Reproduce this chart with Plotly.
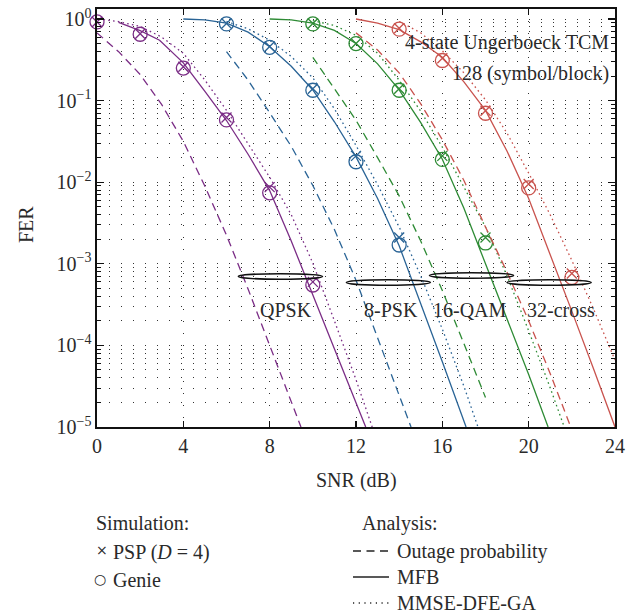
import math
import plotly.graph_objects as go

# ---------------- data ----------------
MODS = ["QPSK", "8-PSK", "16-QAM", "32-cross"]
COLORS = ["#7b2d86", "#2a6496", "#2e8b35", "#c9534e"]

# Outage probability (dashed)
SNR_OUT_QPSK = [0, 1, 2, 3, 4, 5, 6, 7, 8, 9, 9.45]
FER_OUT_QPSK = [0.676, 0.398, 0.209, 0.0891, 0.0316, 8.9e-3, 2.24e-3, 4.9e-4, 1.0e-4, 2.04e-5, 1e-5]
SNR_OUT_8PSK = [6, 7, 8, 9, 10, 11, 12, 13, 14, 14.55]
FER_OUT_8PSK = [0.398, 0.178, 0.0708, 0.0275, 9.1e-3, 2.63e-3, 6.3e-4, 1.26e-4, 2.5e-5, 1e-5]
SNR_OUT_16QAM = [10, 11, 12, 13, 14, 15, 16, 17, 18]
FER_OUT_16QAM = [0.339, 0.141, 0.0575, 0.02, 6.8e-3, 1.9e-3, 4.7e-4, 1.05e-4, 2.3e-5]
SNR_OUT_32X = [12, 13, 14, 15, 16, 17, 18, 19, 20, 21, 21.95]
FER_OUT_32X = [0.676, 0.417, 0.219, 0.0912, 0.0331, 0.0105, 2.82e-3, 7.9e-4, 2.0e-4, 4.5e-5, 1e-5]

# MFB (solid)
SNR_MFB_QPSK = [1, 2, 2.9, 4, 5, 6, 7, 8, 9, 10, 11, 12, 12.45]
FER_MFB_QPSK = [0.91, 0.72, 0.55, 0.29, 0.13, 0.057, 0.022, 7.9e-3, 1.9e-3, 4.2e-4, 9.1e-5, 2.0e-5, 1e-5]
SNR_MFB_8PSK = [4, 5, 6, 7, 8, 9, 10, 11, 12, 13, 14, 15, 16, 17.1]
FER_MFB_8PSK = [1.0, 0.977, 0.89, 0.69, 0.457, 0.263, 0.135, 0.055, 0.0204, 6.3e-3, 1.66e-3, 3.3e-4, 6.3e-5, 1e-5]
SNR_MFB_16QAM = [8, 9, 10, 11, 12, 13, 14, 15, 16, 17, 18, 19, 20, 20.9]
FER_MFB_16QAM = [1.0, 0.977, 0.891, 0.724, 0.501, 0.282, 0.135, 0.0537, 0.0191, 4.8e-3, 1.0e-3, 2.1e-4, 4.4e-5, 1e-5]
SNR_MFB_32X = [12, 13, 14, 15, 16, 17, 18, 19, 20, 21, 22, 23, 24]
FER_MFB_32X = [1.0, 0.891, 0.741, 0.525, 0.339, 0.17, 0.0759, 0.024, 6.3e-3, 1.32e-3, 2.63e-4, 5.2e-5, 1e-5]

# MMSE-DFE-GA (dotted)
SNR_DFE_QPSK = [0.3, 1, 2, 3, 4, 5, 6, 7, 8, 9, 10, 11, 12, 12.75]
FER_DFE_QPSK = [0.98, 0.93, 0.81, 0.6, 0.38, 0.178, 0.076, 0.030, 0.0115, 4.0e-3, 1.02e-3, 2.0e-4, 3.8e-5, 1e-5]
SNR_DFE_8PSK = [6, 7, 8, 9, 10, 11, 12, 13, 14, 15, 16, 17, 17.65]
FER_DFE_8PSK = [0.933, 0.759, 0.55, 0.347, 0.19, 0.0794, 0.0282, 9.3e-3, 2.82e-3, 7.1e-4, 1.58e-4, 3.16e-5, 1e-5]
SNR_DFE_16QAM = [10, 11, 12, 13, 14, 15, 16, 17, 18, 19, 20, 21, 21.65]
FER_DFE_16QAM = [0.955, 0.832, 0.631, 0.38, 0.178, 0.0741, 0.0269, 8.7e-3, 2.82e-3, 7.1e-4, 1.51e-4, 3.0e-5, 1e-5]
SNR_DFE_32X = [14, 15, 16, 17, 18, 19, 20, 21, 22, 23, 24]
FER_DFE_32X = [0.933, 0.676, 0.407, 0.219, 0.102, 0.0398, 0.0129, 3.98e-3, 1.1e-3, 2.82e-4, 6.6e-5]

# Simulation: PSP (D = 4) crosses and Genie circles
SNR_SIM_QPSK = [0, 2, 4, 6, 8, 10]
FER_PSP_QPSK = [0.92, 0.66, 0.26, 0.062, 8.7e-3, 6.0e-4]
FER_GENIE_QPSK = [0.92, 0.65, 0.25, 0.058, 7.4e-3, 5.5e-4]
SNR_SIM_8PSK = [6, 8, 10, 12, 14]
FER_PSP_8PSK = [0.88, 0.46, 0.14, 0.021, 2.1e-3]
FER_GENIE_8PSK = [0.87, 0.45, 0.134, 0.0178, 1.7e-3]
SNR_SIM_16QAM = [10, 12, 14, 16, 18]
FER_PSP_16QAM = [0.88, 0.5, 0.14, 0.021, 2.1e-3]
FER_GENIE_16QAM = [0.87, 0.5, 0.134, 0.019, 1.8e-3]
SNR_SIM_32X = [14, 16, 18, 20, 22]
FER_PSP_32X = [0.77, 0.33, 0.075, 9.5e-3, 7.6e-4]
FER_GENIE_32X = [0.75, 0.31, 0.07, 8.5e-3, 6.8e-4]

# Ellipse groupings (centre SNR, centre FER) and their labels
ELLIPSE_SNR = [8.5, 13.5, 17.35, 20.95]
ELLIPSE_FER = [7.0e-4, 5.9e-4, 7.2e-4, 5.9e-4]
LABEL_SNR = [8.76, 13.62, 17.28, 21.5]
LABEL_FER = [2.7e-4, 2.7e-4, 2.7e-4, 2.7e-4]

X_TICKS = [0, 4, 8, 12, 16, 20, 24]
Y_TICKS = [1e-5, 1e-4, 1e-3, 1e-2, 1e-1, 1]
Y_TICK_TEXT = ["10<sup>−5</sup>", "10<sup>−4</sup>", "10<sup>−3</sup>",
               "10<sup>−2</sup>", "10<sup>−1</sup>", "10<sup>0</sup>"]

OUT = [(SNR_OUT_QPSK, FER_OUT_QPSK), (SNR_OUT_8PSK, FER_OUT_8PSK),
       (SNR_OUT_16QAM, FER_OUT_16QAM), (SNR_OUT_32X, FER_OUT_32X)]
MFB = [(SNR_MFB_QPSK, FER_MFB_QPSK), (SNR_MFB_8PSK, FER_MFB_8PSK),
       (SNR_MFB_16QAM, FER_MFB_16QAM), (SNR_MFB_32X, FER_MFB_32X)]
DFE = [(SNR_DFE_QPSK, FER_DFE_QPSK), (SNR_DFE_8PSK, FER_DFE_8PSK),
       (SNR_DFE_16QAM, FER_DFE_16QAM), (SNR_DFE_32X, FER_DFE_32X)]
SIM = [(SNR_SIM_QPSK, FER_PSP_QPSK, FER_GENIE_QPSK),
       (SNR_SIM_8PSK, FER_PSP_8PSK, FER_GENIE_8PSK),
       (SNR_SIM_16QAM, FER_PSP_16QAM, FER_GENIE_16QAM),
       (SNR_SIM_32X, FER_PSP_32X, FER_GENIE_32X)]

# ---------------- figure ----------------
FONT = "Liberation Serif, Times New Roman, serif"
TXT = "#2a2a2a"
W, H = 638, 616
ML, MR, MT, MB = 97, 23, 9, 189
PW, PH = W - ML - MR, H - MT - MB
YMIN, YMAX = -5, 0.1225

fig = go.Figure()
DASH = "8px,5px"
DOT = "1.6px,3.2px"
LW = 1.3

for i, name in enumerate(MODS):
    c = COLORS[i]
    fig.add_trace(go.Scatter(x=OUT[i][0], y=OUT[i][1], mode="lines",
                             line=dict(color=c, width=LW, dash=DASH), showlegend=False))
    fig.add_trace(go.Scatter(x=MFB[i][0], y=MFB[i][1], mode="lines",
                             line=dict(color=c, width=LW), showlegend=False))
    fig.add_trace(go.Scatter(x=DFE[i][0], y=DFE[i][1], mode="lines",
                             line=dict(color=c, width=LW, dash=DOT), showlegend=False))
    fig.add_trace(go.Scatter(x=SIM[i][0], y=SIM[i][1], mode="markers", cliponaxis=False,
                             marker=dict(symbol="x-thin-open", size=10, color=c,
                                         line=dict(color=c, width=1.3)), showlegend=False))
    fig.add_trace(go.Scatter(x=SIM[i][0], y=SIM[i][2], mode="markers", cliponaxis=False,
                             marker=dict(symbol="circle-open", size=14, color=c,
                                         line=dict(color=c, width=1.3)), showlegend=False))


def yfrac(v):
    """FER value -> paper fraction on the log axis."""
    return (math.log10(v) - YMIN) / (YMAX - YMIN)


shapes = []
annotations = []
EW = 3.9      # ellipse width in dB
EH = 0.0066   # ellipse half-height (paper fraction)
for i, name in enumerate(MODS):
    yc = yfrac(ELLIPSE_FER[i])
    shapes.append(dict(type="circle", xref="x", yref="paper", layer="above",
                       x0=ELLIPSE_SNR[i] - EW / 2, x1=ELLIPSE_SNR[i] + EW / 2,
                       y0=yc - EH, y1=yc + EH,
                       line=dict(color="#111111", width=1.5)))
    annotations.append(dict(x=LABEL_SNR[i], y=yfrac(LABEL_FER[i]), xref="x", yref="paper",
                            xanchor="center", yanchor="middle",
                            text=name, showarrow=False,
                            font=dict(family=FONT, size=20, color=TXT)))


def px(xp):
    return (xp - ML) / PW


def py(yp):
    return (MT + PH - yp) / PH


def text_at(xp, yp, t, xanchor="left", size=20, fam=FONT, angle=0):
    annotations.append(dict(x=px(xp), y=py(yp), xref="paper", yref="paper",
                            xanchor=xanchor, yanchor="middle", textangle=angle,
                            text=t, showarrow=False,
                            font=dict(family=fam, size=size, color=TXT)))


# top-right caption
text_at(611, 42, "4-state Ungerboeck TCM", xanchor="right")
text_at(611, 73, "128 (symbol/block)", xanchor="right")
# axis titles
text_at(356, 480, "SNR (dB)", xanchor="center")
text_at(26, 225, "FER", xanchor="center", angle=-90)

# legend block
text_at(94, 523, "Simulation:")
text_at(94, 550, "×", size=14, fam="DejaVu Sans")
text_at(111, 552, "PSP (<i>D</i> = 4)")
text_at(92, 579, "○", size=14, fam="DejaVu Sans")
text_at(111, 580, "Genie")
text_at(360, 523, "Analysis:")
text_at(395, 551, "Outage probability")
text_at(395, 577, "MFB")
text_at(395, 603, "MMSE-DFE-GA")
for yy, dash in [(551, "8px,5.5px"), (577, "solid"), (603, "1.2px,4.5px")]:
    shapes.append(dict(type="line", xref="paper", yref="paper",
                       x0=px(353), x1=px(389), y0=py(yy), y1=py(yy),
                       line=dict(color="#222222", width=1.3, dash=dash)))

fig.update_layout(
    width=W, height=H,
    margin=dict(l=ML, r=MR, t=MT, b=MB),
    paper_bgcolor="white", plot_bgcolor="white",
    font=dict(family=FONT, size=20, color=TXT),
    shapes=shapes, annotations=annotations, showlegend=False,
)
fig.update_xaxes(range=[0, 24], tickvals=X_TICKS, ticks="inside", ticklen=6, tickwidth=1.2,
                 tickcolor="#111", showline=True, linecolor="#111", linewidth=1.6,
                 mirror="allticks", showgrid=True, gridcolor="#333", gridwidth=1,
                 griddash="1px,11px", zeroline=False, automargin=False,
                 tickfont=dict(family=FONT, size=20, color=TXT))
fig.update_yaxes(type="log", range=[YMIN, YMAX], tickvals=Y_TICKS, ticktext=Y_TICK_TEXT,
                 ticks="inside", ticklen=7, tickwidth=1.2, tickcolor="#111",
                 showline=True, linecolor="#111", linewidth=1.6, mirror="allticks",
                 showgrid=True, gridcolor="#333", gridwidth=1, griddash="1px,11px",
                 zeroline=False, automargin=False,
                 tickfont=dict(family=FONT, size=20, color=TXT),
                 minor=dict(dtick="D1", ticks="inside", ticklen=4, tickwidth=1,
                            tickcolor="#111", showgrid=True, gridcolor="#333",
                            gridwidth=1, griddash="1px,11px"))

# the page body has a default 8px margin; remove it so the figure sits at (0, 0)
fig.write_html("out.html", config={"displayModeBar": False, "staticPlot": True},
               post_script="document.body.style.margin='0px';document.body.style.overflow='hidden';")
